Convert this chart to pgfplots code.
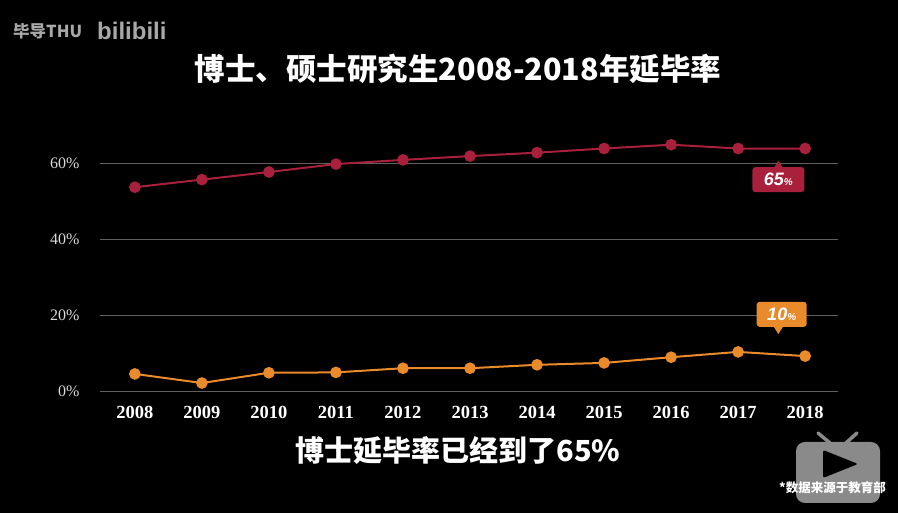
\documentclass[border=0pt]{standalone}
\usepackage{fontspec}
\setmainfont{Liberation Serif}
\newfontfamily\sansf{Liberation Sans}
\newfontfamily\cjk{Noto Sans CJK SC}
\usepackage{pgfplots}
\pgfplotsset{compat=1.18}
\definecolor{redline}{HTML}{A8203C}
\definecolor{orangeline}{HTML}{E98A2B}
\definecolor{gridgray}{HTML}{606060}
\definecolor{ticktext}{HTML}{DADADA}
\definecolor{logogray}{HTML}{8A8A8A}
\definecolor{wmgray}{HTML}{A8A8A8}

\begin{document}
\begin{tikzpicture}[x=1pt,y=1pt]
\path[use as bounding box] (0,0) rectangle (898,513);
\fill[black] (0,0) rectangle (898,513);
% watermark
\node[anchor=west, text=wmgray, font=\cjk\bfseries\fontsize{16.5}{16.5}\selectfont, inner sep=0] at (13,513-31) {毕导THU};
\node[anchor=west, text=wmgray, font=\sansf\bfseries\fontsize{24}{24}\selectfont, inner sep=0] at (97,513-31) {bilibili};
% title
\node[text=white, font=\cjk\bfseries\fontsize{30.5}{30.5}\selectfont] at (458,513-69) {博士、硕士研究生2008-2018年延毕率};

\begin{axis}[
  at={(100pt,122pt)}, anchor=south west,
  scale only axis, width=738pt, height=227.7pt,
  xmin=2007.48, xmax=2018.49, ymin=0, ymax=60,
  clip=false,
  axis line style={draw=none},
  major tick length=0pt,
  xtick={2008,2009,2010,2011,2012,2013,2014,2015,2016,2017,2018},
  xticklabels={2008,2009,2010,2011,2012,2013,2014,2015,2016,2017,2018},
  ytick={0,20,40,60},
  yticklabels={0\%,20\%,40\%,60\%},
  ymajorgrids,
  grid style={gridgray, line width=0.9pt},
  xticklabel style={text=white, font=\bfseries\fontsize{18.5}{18.5}\selectfont, anchor=center, yshift=-21pt},
  yticklabel style={text=ticktext, font=\fontsize{16}{16}\selectfont, anchor=east, xshift=-17pt},
]
\addplot[redline, line width=2pt, mark=*, mark size=4.8pt, mark options={fill=redline, draw=redline}]
coordinates {(2008,53.7)(2009,55.7)(2010,57.7)(2011,59.8)(2012,60.9)(2013,61.9)(2014,62.8)(2015,63.9)(2016,64.9)(2017,63.9)(2018,63.9)};
\addplot[orangeline, line width=2pt, mark=*, mark size=4.8pt, mark options={fill=orangeline, draw=orangeline}]
coordinates {(2008,4.5)(2009,2.1)(2010,4.8)(2011,4.9)(2012,6.0)(2013,6.0)(2014,6.9)(2015,7.4)(2016,8.9)(2017,10.3)(2018,9.2)};
% callouts
\fill[redline] (axis cs:2017.6,60.7) -- ++(-5pt,-8pt) -- ++(10pt,0pt) -- cycle;
\node[fill=redline, rounded corners=3pt, minimum width=52pt, minimum height=25pt, inner sep=0pt, text=white, font=\sansf\bfseries\itshape\fontsize{18}{18}\selectfont] at (axis cs:2017.6,55.7) {65{\fontsize{10}{10}\selectfont\%}};
\fill[orangeline] (axis cs:2017.6,15.0) -- ++(-5pt,8pt) -- ++(10pt,0pt) -- cycle;
\node[fill=orangeline, rounded corners=3pt, minimum width=50pt, minimum height=25pt, inner sep=0pt, text=white, font=\sansf\bfseries\itshape\fontsize{18}{18}\selectfont] at (axis cs:2017.65,20.2) {10{\fontsize{10}{10}\selectfont\%}};
\end{axis}

% subtitle
\node[text=white, font=\cjk\bfseries\fontsize{29}{29}\selectfont] at (458,513-451) {博士延毕率已经到了65\%};
% TV logo
\draw[logogray, line width=3.5pt, line cap=round] (830,513-443) -- (818,513-433);
\draw[logogray, line width=3.5pt, line cap=round] (846,513-443) -- (857,513-433);
\fill[logogray, rounded corners=9pt] (796,513-503) rectangle (880,513-442);
\fill[black, rounded corners=2pt] (823,513-450) -- (858,513-464) -- (823,513-478) -- cycle;
\node[text=white, font=\cjk\bfseries\fontsize{12.5}{12.5}\selectfont, anchor=east, inner sep=0] at (886,513-488) {*数据来源于教育部};
\end{tikzpicture}
\end{document}
